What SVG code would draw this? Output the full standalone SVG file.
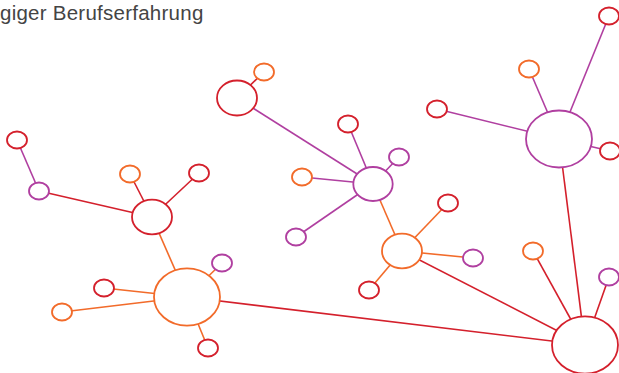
<svg xmlns="http://www.w3.org/2000/svg" width="619" height="373" viewBox="0 0 619 373">
<style>
.n{fill:#fff;stroke-width:1.8}
.r{stroke:#d4202c}
.o{stroke:#f26b2a}
.p{stroke:#b03fa0}
#edges line{stroke-width:1.6}
.t{font-family:"Liberation Sans",Arial,sans-serif;font-size:20.5px;letter-spacing:0.25px;fill:#444}
</style>
<rect width="619" height="373" fill="#fff"/>
<text class="t" x="0" y="19.5">giger Berufserfahrung</text>
<g id="edges">
<line class="r" x1="237" y1="98" x2="264" y2="72"/>
<line class="p" x1="237" y1="98" x2="373" y2="184"/>
<line class="p" x1="17" y1="140" x2="39" y2="191"/>
<line class="r" x1="39" y1="191" x2="152" y2="217"/>
<line class="r" x1="130" y1="174" x2="152" y2="217"/>
<line class="r" x1="199" y1="173" x2="152" y2="217"/>
<line class="o" x1="152" y1="217" x2="187" y2="297"/>
<line class="o" x1="187" y1="297" x2="222" y2="263"/>
<line class="o" x1="187" y1="297" x2="104" y2="288"/>
<line class="o" x1="187" y1="297" x2="62" y2="312"/>
<line class="o" x1="187" y1="297" x2="208" y2="348"/>
<line class="r" x1="187" y1="297" x2="585" y2="345"/>
<line class="p" x1="373" y1="184" x2="348" y2="124"/>
<line class="p" x1="373" y1="184" x2="399" y2="157"/>
<line class="p" x1="373" y1="184" x2="302" y2="177"/>
<line class="p" x1="373" y1="184" x2="296" y2="237"/>
<line class="o" x1="373" y1="184" x2="402" y2="251"/>
<line class="o" x1="402" y1="251" x2="448" y2="203"/>
<line class="o" x1="402" y1="251" x2="473" y2="258"/>
<line class="o" x1="402" y1="251" x2="369" y2="290"/>
<line class="r" x1="402" y1="251" x2="585" y2="345"/>
<line class="p" x1="559" y1="139" x2="609" y2="16"/>
<line class="p" x1="559" y1="139" x2="529" y2="69"/>
<line class="p" x1="559" y1="139" x2="437" y2="109"/>
<line class="p" x1="559" y1="139" x2="610" y2="151"/>
<line class="r" x1="559" y1="139" x2="585" y2="345"/>
<line class="r" x1="585" y1="345" x2="533" y2="251"/>
<line class="r" x1="585" y1="345" x2="609" y2="277"/>
</g>
<g id="n1"><ellipse class="n r" cx="237" cy="98" rx="20" ry="17.5"/></g>
<g id="n2"><ellipse class="n o" cx="264" cy="72" rx="10" ry="8.5"/></g>
<g id="n3"><ellipse class="n r" cx="17" cy="140" rx="10" ry="8.5"/></g>
<g id="n4"><ellipse class="n p" cx="39" cy="191" rx="10" ry="8.5"/></g>
<g id="n5"><ellipse class="n o" cx="130" cy="174" rx="10" ry="8.5"/></g>
<g id="n6"><ellipse class="n r" cx="199" cy="173" rx="10" ry="8.5"/></g>
<g id="n7"><ellipse class="n r" cx="152" cy="217" rx="20" ry="17.3"/></g>
<g id="n8"><ellipse class="n o" cx="187" cy="297" rx="33" ry="28.7"/></g>
<g id="n9"><ellipse class="n p" cx="222" cy="263" rx="10" ry="8.5"/></g>
<g id="n10"><ellipse class="n r" cx="104" cy="288" rx="10" ry="8.5"/></g>
<g id="n11"><ellipse class="n o" cx="62" cy="312" rx="10" ry="8.5"/></g>
<g id="n12"><ellipse class="n r" cx="208" cy="348" rx="10" ry="8.5"/></g>
<g id="n13"><ellipse class="n p" cx="373" cy="184" rx="19.7" ry="17"/></g>
<g id="n14"><ellipse class="n r" cx="348" cy="124" rx="10" ry="8.5"/></g>
<g id="n15"><ellipse class="n p" cx="399" cy="157" rx="10" ry="8.5"/></g>
<g id="n16"><ellipse class="n o" cx="302" cy="177" rx="10" ry="8.5"/></g>
<g id="n17"><ellipse class="n p" cx="296" cy="237" rx="10" ry="8.5"/></g>
<g id="n18"><ellipse class="n o" cx="402" cy="251" rx="20" ry="17.3"/></g>
<g id="n19"><ellipse class="n r" cx="448" cy="203" rx="10" ry="8.5"/></g>
<g id="n20"><ellipse class="n p" cx="473" cy="258" rx="10" ry="8.5"/></g>
<g id="n21"><ellipse class="n r" cx="369" cy="290" rx="10" ry="8.5"/></g>
<g id="n22"><ellipse class="n p" cx="559" cy="139" rx="33" ry="28.5"/></g>
<g id="n23"><ellipse class="n r" cx="609" cy="16" rx="10" ry="8.5"/></g>
<g id="n24"><ellipse class="n o" cx="529" cy="69" rx="10" ry="8.5"/></g>
<g id="n25"><ellipse class="n r" cx="437" cy="109" rx="10" ry="8.5"/></g>
<g id="n26"><ellipse class="n r" cx="610" cy="151" rx="10" ry="8.5"/></g>
<g id="n27"><ellipse class="n o" cx="533" cy="251" rx="10" ry="8.5"/></g>
<g id="n28"><ellipse class="n p" cx="609" cy="277" rx="10" ry="8.5"/></g>
<g id="n29"><ellipse class="n r" cx="585" cy="345" rx="33" ry="28.7"/></g>
</svg>
